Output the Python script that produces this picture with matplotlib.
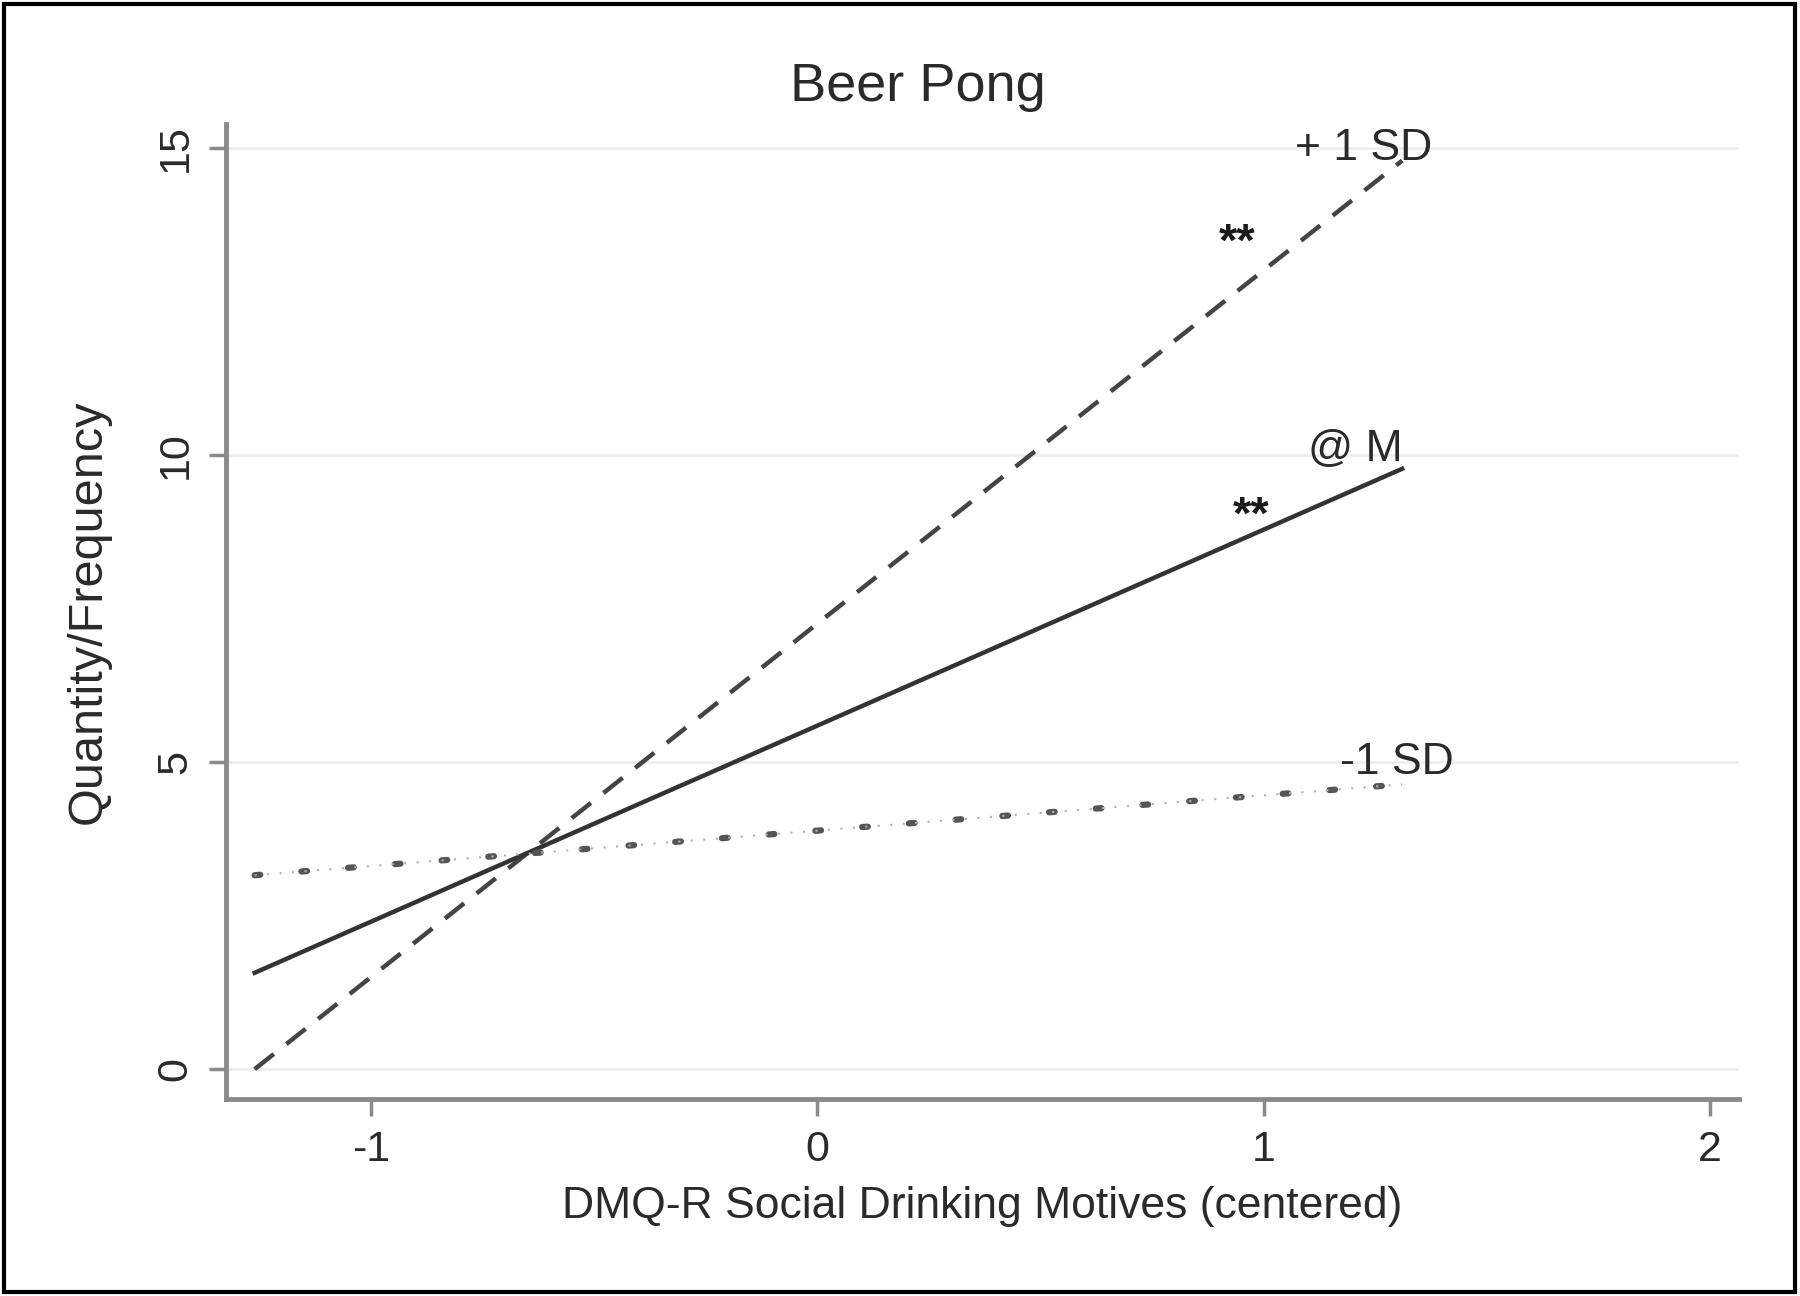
import matplotlib.pyplot as plt
from matplotlib.patches import Rectangle

# data
x_ends = [-1.26, 1.31]
plus_sd = [0.0, 14.8]
at_mean = [1.57, 9.78]
minus_sd = [3.16, 4.64]

line_labels = ['+ 1 SD', '@ M', '-1 SD']
label_pos = [(1.07, 15.0), (1.10, 10.1), (1.17, 5.0)]
star_pos = [(0.90, 13.45), (0.93, 9.0)]

yticks = [0, 5, 10, 15]
xticks = [-1, 0, 1, 2]

plt.rcParams['font.family'] = ['Liberation Sans', 'DejaVu Sans']

fig = plt.figure(figsize=(18, 12.96), dpi=100)
ax = fig.add_axes([0.1256, 0.152, 0.8404, 0.752])

txt = '#2a2a2a'

# faint grid
for v in yticks:
    ax.axhline(v, color='#eeeeee', lw=2, zorder=0)

ax.plot(x_ends, plus_sd, color='#444444', lw=3.2, dashes=(5.5, 3.6), solid_capstyle='butt')
ax.plot(x_ends, at_mean, color='#333333', lw=3.2)
ax.plot(x_ends, minus_sd, color='#555555', lw=4.5, linestyle=(0, (0.9, 6.6)), dash_capstyle='round')
ax.plot(x_ends, minus_sd, color='#b0b0b0', lw=1.5, linestyle=(0, (1, 5)))

for lab, (lx, ly) in zip(line_labels, label_pos):
    ax.text(lx, ly, lab, fontsize=32, color=txt, va='center', ha='left')
for sx, sy in star_pos:
    ax.text(sx, sy, '**', fontsize=34, color='#1a1a1a', va='center', ha='left', fontweight='bold')

ax.set_xlim(-1.324, 2.064)
ax.set_ylim(-0.486, 15.39)
ax.set_xticks(xticks)
ax.set_xticklabels([str(t) for t in xticks])
ax.set_yticks(yticks)
ax.set_yticklabels([str(t) for t in yticks], rotation=90, va='center')

ax.spines['top'].set_visible(False)
ax.spines['right'].set_visible(False)
for s in ['left', 'bottom']:
    ax.spines[s].set_color('#8a8a8a')
    ax.spines[s].set_linewidth(3.5)

ax.tick_params(axis='both', colors='#8a8a8a', width=2.5, length=12, labelsize=31,
               labelcolor=txt, pad=10)

ax.set_xlabel('DMQ-R Social Drinking Motives (centered)', fontsize=32, color=txt, labelpad=12)
ax.set_ylabel('Quantity/Frequency', fontsize=35, color=txt, labelpad=32)
fig.text(0.51, 0.933, 'Beer Pong', fontsize=39, color=txt, ha='center', va='center')

# outer frame
fig.add_artist(Rectangle((0.002, 0.003), 0.995, 0.994, transform=fig.transFigure,
                         fill=False, edgecolor='black', lw=3))

fig.savefig('out.png', dpi=100, facecolor='white')
